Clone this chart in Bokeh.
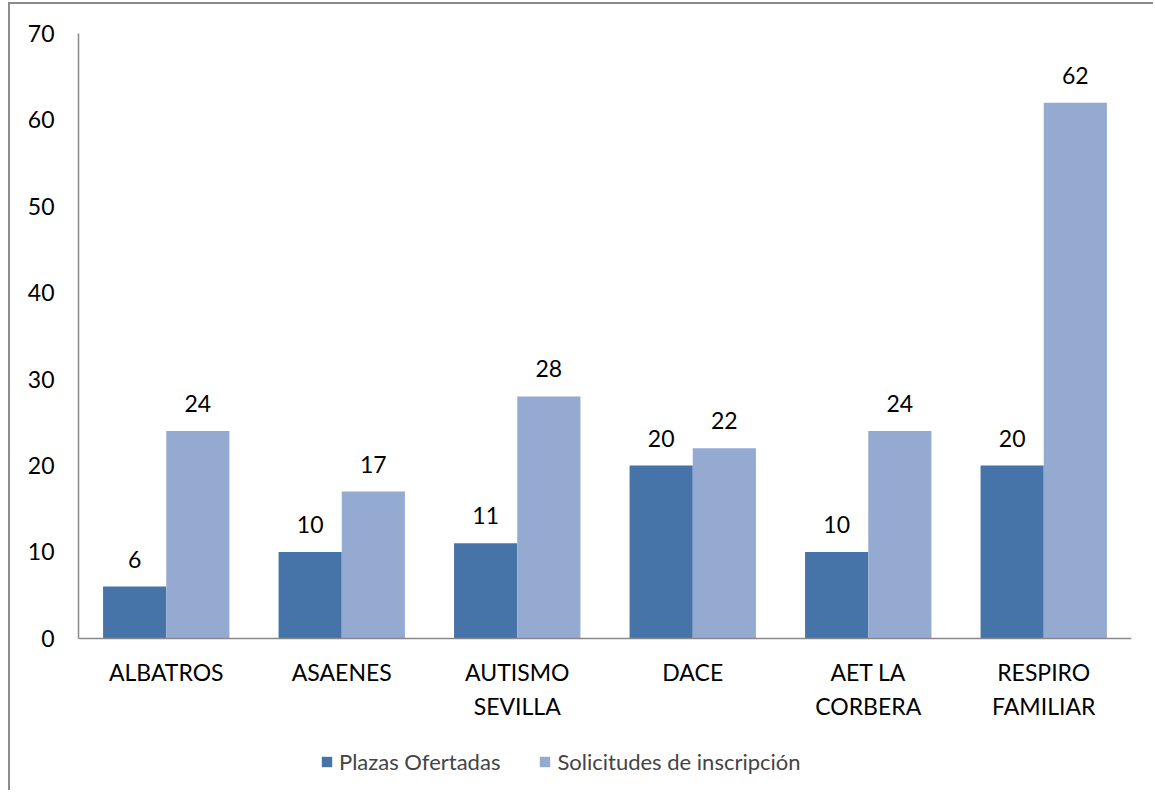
from bokeh.plotting import figure
from bokeh.models import FactorRange, ColumnDataSource, LabelSet, Legend, LegendItem, CategoricalAxis
from bokeh.transform import dodge
from bokeh.core.properties import value
from bokeh.embed import file_html
from bokeh.resources import INLINE

categories = ["ALBATROS", "ASAENES", "AUTISMO SEVILLA", "DACE", "AET LA CORBERA", "RESPIRO FAMILIAR"]
label_line1 = ["ALBATROS", "ASAENES", "AUTISMO", "DACE", "AET LA", "RESPIRO"]
label_line2 = [" ", "  ", "SEVILLA", "   ", "CORBERA", "FAMILIAR"]
plazas = [6, 10, 11, 20, 10, 20]
solicitudes = [24, 17, 28, 22, 24, 62]
series_names = ["Plazas Ofertadas", "Solicitudes de inscripción"]
y_ticks = [0, 10, 20, 30, 40, 50, 60, 70]

FONT = "Lato"
FS = "23px"
DARK = "#4673A8"
LIGHT = "#95AAD1"
AXIS = "#898989"

src = ColumnDataSource(dict(
    cat=categories,
    plazas=plazas,
    solicitudes=solicitudes,
    plazas_txt=[str(v) for v in plazas],
    sol_txt=[str(v) for v in solicitudes],
))

# the frame extends below zero so that the category labels and legend sit inside it
p = figure(
    x_range=FactorRange(*categories, range_padding=0),
    y_range=(-17.6, 70),
    frame_width=1053, frame_height=757,
    output_backend="svg", toolbar_location=None,
    min_border_left=68, min_border_right=22, min_border_top=29, min_border_bottom=0,
)
p.styles = {"margin-left": "8px", "margin-top": "2px",
            "border-left": "2px solid #8c8c8c", "border-top": "2px solid #8c8c8c"}

p.extra_x_ranges = {"l1": FactorRange(*label_line1, range_padding=0),
                    "l2": FactorRange(*label_line2, range_padding=0)}

r1 = p.vbar(x=dodge("cat", -0.18, range=p.x_range), top="plazas", width=0.36,
            source=src, fill_color=DARK, line_color=None)
r2 = p.vbar(x=dodge("cat", 0.18, range=p.x_range), top="solicitudes", width=0.36,
            source=src, fill_color=LIGHT, line_color=None)

for col, txt, off in [("plazas", "plazas_txt", -0.18), ("solicitudes", "sol_txt", 0.18)]:
    labels = LabelSet(x=dodge("cat", off, range=p.x_range), y=col, text=txt, source=src,
                      text_align="center", text_baseline="alphabetic", y_offset=19,
                      text_font=value(FONT), text_font_size=FS, text_color="black")
    p.add_layout(labels)

p.xgrid.visible = False
p.ygrid.visible = False
p.outline_line_color = None
p.background_fill_color = "white"
p.border_fill_color = "white"

p.yaxis.ticker = y_ticks
p.yaxis.bounds = (0, 70)
p.yaxis.major_tick_line_color = None
p.yaxis.minor_tick_line_color = None
p.yaxis.axis_line_color = AXIS
p.yaxis.axis_line_width = 1.5
p.yaxis.major_label_standoff = 18
p.yaxis.major_label_text_font = FONT
p.yaxis.major_label_text_font_size = FS
p.yaxis.major_label_text_color = "black"

p.xaxis.visible = False

xa1 = CategoricalAxis(x_range_name="l1", fixed_location=0,
                      major_tick_line_color=None, minor_tick_line_color=None,
                      axis_line_color=AXIS, axis_line_width=1.5, major_label_standoff=14,
                      major_label_text_font=FONT, major_label_text_font_size=FS,
                      major_label_text_color="black")
p.add_layout(xa1, "below")
xa2 = CategoricalAxis(x_range_name="l2", fixed_location=0,
                      major_tick_line_color=None, minor_tick_line_color=None,
                      axis_line_color=None, major_label_standoff=48,
                      major_label_text_font=FONT, major_label_text_font_size=FS,
                      major_label_text_color="black")
p.add_layout(xa2, "below")

legend = Legend(items=[LegendItem(label=series_names[0], renderers=[r1]),
                       LegendItem(label=series_names[1], renderers=[r2])],
                orientation="horizontal", location=(242, 15),
                label_text_font=FONT, label_text_font_size="22px",
                glyph_width=13, glyph_height=13, label_standoff=6, spacing=38,
                padding=0, border_line_color=None, background_fill_alpha=0,
                margin=0)
p.add_layout(legend, "center")

open("out.html", "w").write(file_html(p, INLINE))
